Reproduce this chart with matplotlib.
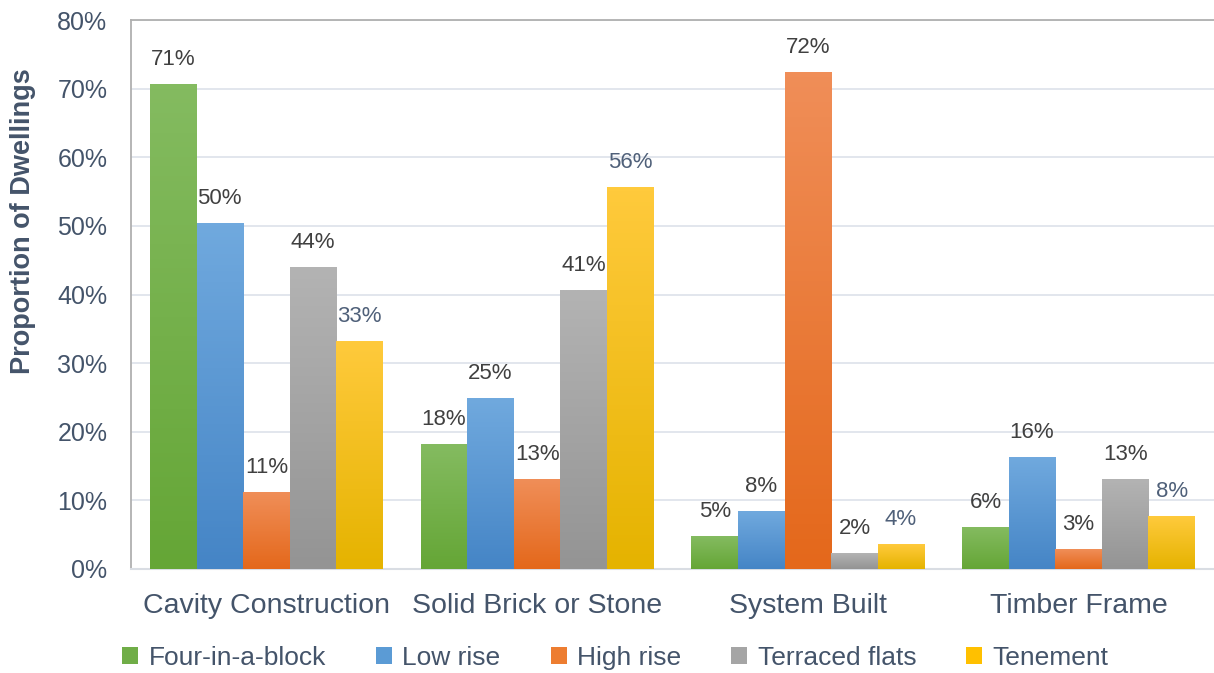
import matplotlib.pyplot as plt
import numpy as np
from matplotlib.colors import LinearSegmentedColormap
from matplotlib.ticker import PercentFormatter

plt.rcParams["font.family"] = ["Liberation Sans", "DejaVu Sans"]

# Tipos de construccion (grupos) y tipos de vivienda (series)
categorias = ["Cavity Construction", "Solid Brick or Stone", "System Built", "Timber Frame"]
series = ["Four-in-a-block", "Low rise", "High rise", "Terraced flats", "Tenement"]

four_in_a_block = [70.6, 18.2, 4.7, 6.1]
low_rise = [50.3, 24.8, 8.4, 16.2]
high_rise = [11.2, 13.1, 72.3, 2.9]
terraced_flats = [43.9, 40.6, 2.3, 13.0]
tenement = [33.2, 55.6, 3.6, 7.6]
valores = [four_in_a_block, low_rise, high_rise, terraced_flats, tenement]

# Color base, claro (arriba) y oscuro (abajo) para el degradado de cada serie
colores = ["#70ad47", "#5b9bd5", "#ed7d31", "#a5a5a5", "#ffc000"]
claros = ["#84bb60", "#70a9de", "#f08e58", "#b3b3b3", "#ffca3c"]
oscuros = ["#65a636", "#4585c6", "#e4681b", "#949494", "#e5b300"]
color_etiqueta = ["#404040", "#404040", "#404040", "#404040", "#4f6079"]

texto = "#44546a"

fig = plt.figure(figsize=(12.14, 6.73), dpi=100)
ax = fig.add_axes([131 / 1214, 104 / 673, 1083 / 1214, 549 / 673])

x = np.arange(len(categorias))
ancho = 0.172

for i, (nombre, vals) in enumerate(zip(series, valores)):
    pos = x + (i - 2) * ancho
    barras = ax.bar(pos, vals, width=ancho, color=colores[i], label=nombre,
                    zorder=2)
    cmap = LinearSegmentedColormap.from_list(nombre, [oscuros[i], claros[i]])
    grad = np.linspace(0, 1, 100).reshape(-1, 1)
    for b, v in zip(barras, vals):
        x0, w = b.get_x(), b.get_width()
        ax.imshow(grad, extent=(x0, x0 + w, 0, v), origin="lower",
                  aspect="auto", cmap=cmap, zorder=3)
        ax.text(x0 + w / 2, v + 2.1, f"{v:.0f}%", ha="center", va="bottom",
                fontsize=16, color=color_etiqueta[i], zorder=4)

ax.set_xlim(-0.5, 3.5)
ax.set_ylim(0, 80)
ax.set_yticks(np.arange(0, 81, 10))
ax.yaxis.set_major_formatter(PercentFormatter(decimals=0))
ax.set_xticks(x)
ax.set_xticklabels(categorias, fontsize=20.5)
ax.tick_params(axis="both", length=0, labelcolor=texto)
ax.tick_params(axis="y", labelsize=18, pad=17)
ax.tick_params(axis="x", pad=17)

ax.grid(axis="y", color="#dde2ea", linewidth=1.2, zorder=0)
ax.set_axisbelow(True)
for lado in ["left", "top"]:
    ax.spines[lado].set_color("#b0b0b0")
    ax.spines[lado].set_linewidth(1.3)
ax.spines["bottom"].set_color("#d9dde3")
ax.spines["bottom"].set_linewidth(1.5)
ax.spines["right"].set_visible(False)

ax.set_ylabel("Proportion of Dwellings", fontsize=19.5, fontweight="bold",
              color=texto)
ax.yaxis.set_label_coords(-0.088, 0.634)

fig.legend(loc="lower center", bbox_to_anchor=(0.507, -0.031), ncol=5,
           frameon=False, fontsize=19, labelcolor=texto, handlelength=0.6,
           handleheight=0.6, handletextpad=0.4, columnspacing=1.9)

fig.savefig("out.png", dpi=100)
